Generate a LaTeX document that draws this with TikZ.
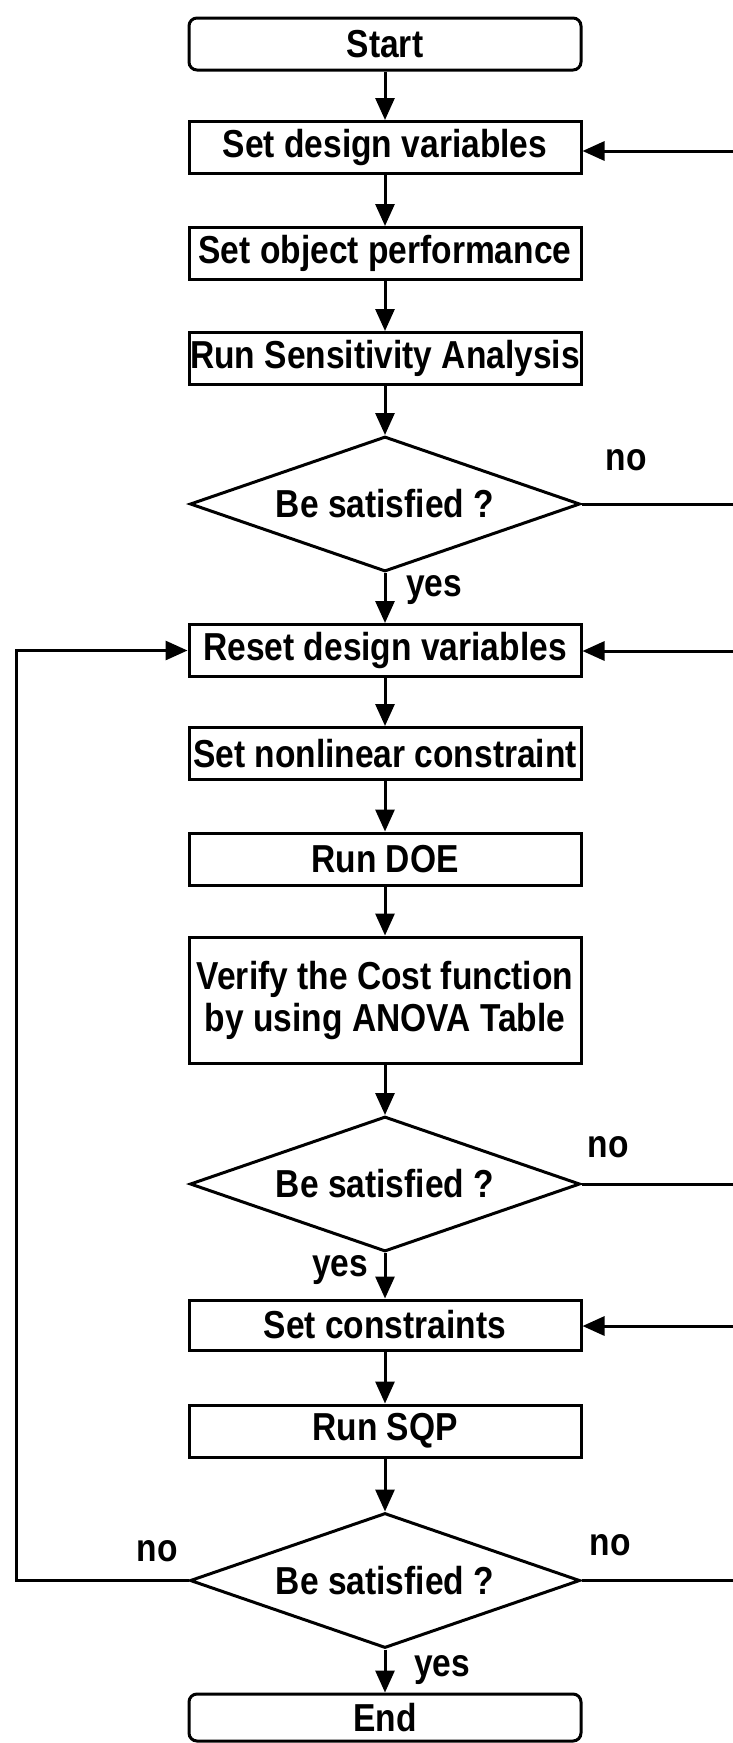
\documentclass[tikz,border=0pt]{standalone}
\usepackage{fontspec}
\newfontfamily\flowfont{Liberation Sans}[FakeStretch=0.86]
\usetikzlibrary{shapes.geometric,arrows.meta}
\begin{document}
\begin{tikzpicture}[x=1pt,y=-1pt,
  every node/.style={font=\flowfont\bfseries\fontsize{39}{42}\selectfont},
  proc/.style={draw, line width=3pt, minimum width=392pt, minimum height=52pt, inner sep=0pt, align=center},
  term/.style={proc, rounded corners=8pt},
  dec/.style={draw, diamond, aspect=2.9, line width=3pt, minimum width=390pt, minimum height=135pt, inner sep=0pt},
  lbl/.style={inner sep=0pt},
  flow/.style={line width=3pt, -{Triangle[length=22pt,width=19pt]}},
  link/.style={line width=3pt}]
\useasboundingbox (0,0) rectangle (733,1743);
\node[term] (start) at (385,44) {Start};
\node[proc] (sdv) at (385,147.5) {Set design variables};
\node[proc] (sop) at (385,253.5) {Set object performance};
\node[proc] (rsa) at (385,358.5) {Run Sensitivity Analysis};
\node[dec] (d1) at (385,504) {Be satisfied ?};
\node[proc] (reset) at (385,650.5) {Reset design variables};
\node[proc] (snc) at (385,753.5) {Set nonlinear constraint};
\node[proc] (doe) at (385,859) {Run DOE};
\node[proc, minimum height=126pt] (verify) at (385,1000) {Verify the Cost function\\ by using ANOVA Table};
\node[dec] (d2) at (385,1184) {Be satisfied ?};
\node[proc, minimum height=50pt] (setc) at (385,1325) {Set constraints};
\node[proc] (sqp) at (385,1431) {Run SQP};
\node[dec] (d3) at (385,1580.5) {Be satisfied ?};
\node[term, minimum height=47pt] (end) at (385,1717.5) {End};

\node[lbl] (no1) at (626,460) {no};
\node[lbl] (yes1) at (434,590) {yes};
\node[lbl] (no2) at (608,1147) {no};
\node[lbl] (yes2) at (340,1270) {yes};
\node[lbl] (no3l) at (157,1551) {no};
\node[lbl] (no3r) at (610,1545) {no};
\node[lbl] (yes3) at (442,1670) {yes};

\draw[flow] (start) -- (sdv);
\draw[flow] (sdv) -- (sop);
\draw[flow] (sop) -- (rsa);
\draw[flow] (rsa) -- (d1);
\draw[flow] (d1) -- (reset);
\draw[flow] (reset) -- (snc);
\draw[flow] (snc) -- (doe);
\draw[flow] (doe) -- (verify);
\draw[flow] (verify) -- (d2);
\draw[flow] (d2) -- (setc);
\draw[flow] (setc) -- (sqp);
\draw[flow] (sqp) -- (d3);
\draw[flow] (d3) -- (end);

\coordinate (r1) at (733,151);
\coordinate (r3) at (733,651);
\coordinate (r5) at (733,1326);
\coordinate (l1) at (16,0);
\draw[link] (d1.east) -- (d1.east -| r1);
\draw[flow] (r1) -- (r1 -| sdv.east);
\draw[link] (d2.east) -- (d2.east -| r3);
\draw[flow] (r3) -- (r3 -| reset.east);
\draw[link] (d3.east) -- (d3.east -| r5);
\draw[flow] (r5) -- (r5 -| setc.east);
\draw[flow] (d3.west) -| (l1 |- reset) -- (reset.west);
\end{tikzpicture}
\end{document}
